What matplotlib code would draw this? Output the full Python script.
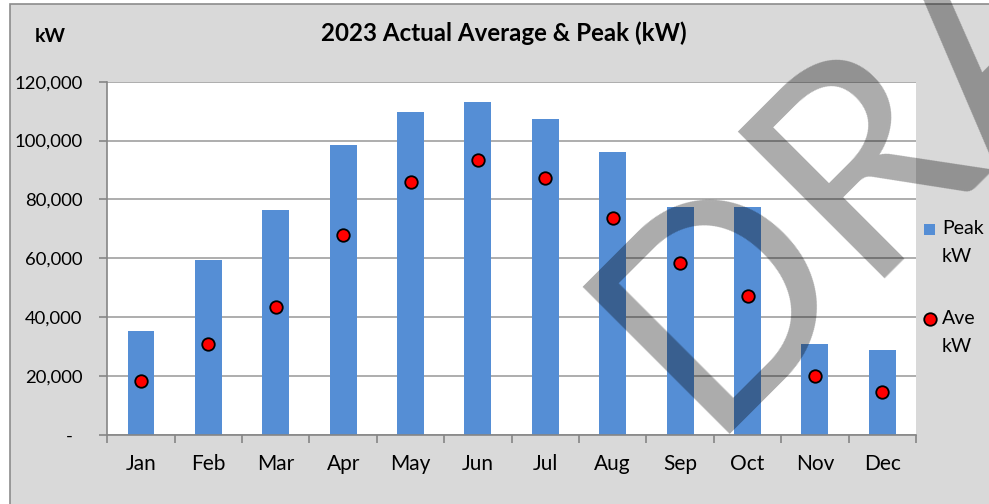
import matplotlib
matplotlib.use("Agg")
import matplotlib.pyplot as plt
from matplotlib.patches import Rectangle
from matplotlib.lines import Line2D
from matplotlib.ticker import FuncFormatter

# --- Data ---
months = ["Jan", "Feb", "Mar", "Apr", "May", "Jun",
          "Jul", "Aug", "Sep", "Oct", "Nov", "Dec"]
peak_kw = [35200, 59400, 76500, 98400, 109600, 113000,
           107300, 96000, 77300, 77600, 30800, 29000]
ave_kw = [18300, 31000, 43400, 67800, 86000, 93300,
          87200, 73600, 58400, 47300, 20200, 14600]
y_ticks = [0, 20000, 40000, 60000, 80000, 100000, 120000]

# --- Style ---
plt.rcParams["font.family"] = ["Lato", "DejaVu Sans"]
bar_color = "#558ed5"
grid_color = "#a0a0a0"
axis_color = "#868686"
panel_color = "#d9d9d9"

W, H = 989, 504
fig = plt.figure(figsize=(W / 100, H / 100), dpi=100)
fig.patch.set_facecolor("white")

# grey chart frame (extends past right/bottom edges)
fig.patches.append(Rectangle((10 / W, -0.1), 1.2, 1 - 4 / H + 0.1,
                             transform=fig.transFigure, facecolor=panel_color,
                             edgecolor="#8c8c8c", lw=1.2, zorder=-5))

ax = fig.add_axes([107.3 / W, 1 - 435 / H, (916 - 107.3) / W, (435 - 81.7) / H])
ax.set_facecolor("white")

x = range(len(months))
ax.bar(x, peak_kw, width=0.4, color=bar_color, zorder=2)
ax.plot(x, ave_kw, linestyle="none", marker="o", markersize=9,
        markerfacecolor="red", markeredgecolor="black", markeredgewidth=1.3, zorder=3)

ax.set_xlim(-0.5, len(months) - 0.5)
ax.set_ylim(0, 120000)
ax.set_yticks(y_ticks)
ax.yaxis.set_major_formatter(FuncFormatter(lambda v, p: "-  " if v == 0 else f"{v:,.0f}"))
ax.grid(axis="y", color=grid_color, lw=1.2, zorder=1)
ax.set_axisbelow(True)

ax.set_xticks(list(x))
ax.set_xticklabels(months)
ax.set_xticks([i - 0.5 for i in range(len(months) + 1)], minor=True)
ax.tick_params(axis="x", which="major", length=0, pad=14, labelsize=15)
ax.tick_params(axis="x", which="minor", length=6, color=axis_color, width=1.2)
ax.tick_params(axis="y", length=6, color=axis_color, width=1.2, pad=12, labelsize=13.3)

for s in ["top", "right"]:
    ax.spines[s].set_visible(False)
for s in ["left", "bottom"]:
    ax.spines[s].set_color(axis_color)
    ax.spines[s].set_linewidth(1.2)

# titles
fig.text(504 / W, 1 - 33 / H, "2023 Actual Average & Peak (kW)", ha="center", va="center",
         fontsize=17.4, fontweight="bold")
fig.text(50 / W, 1 - 37 / H, "kW", ha="center", va="center", fontsize=14, fontweight="bold")

# legend (drawn by hand so the marker sits on the first line)
fig.patches.append(Rectangle((923.5 / W, 1 - 235 / H), 11.5 / W, 11.5 / H,
                             transform=fig.transFigure, facecolor=bar_color, lw=0))
fig.lines.append(Line2D([930 / W], [1 - 319 / H], transform=fig.transFigure,
                        marker="o", markersize=9, markerfacecolor="red",
                        markeredgecolor="black", markeredgewidth=1.3))
for label, yc in [("Peak", 229), ("kW", 256), ("Ave", 319), ("kW", 346)]:
    fig.text(942 / W, 1 - yc / H, label, ha="left", va="center", fontsize=14)

# DRAFT watermark
fig.text(703 / W, 1 - 434 / H, "DRAFT", rotation=45, rotation_mode="anchor",
         ha="left", va="baseline", fontsize=209, color="black", alpha=0.33, zorder=10)

fig.savefig("out.png", dpi=100)
